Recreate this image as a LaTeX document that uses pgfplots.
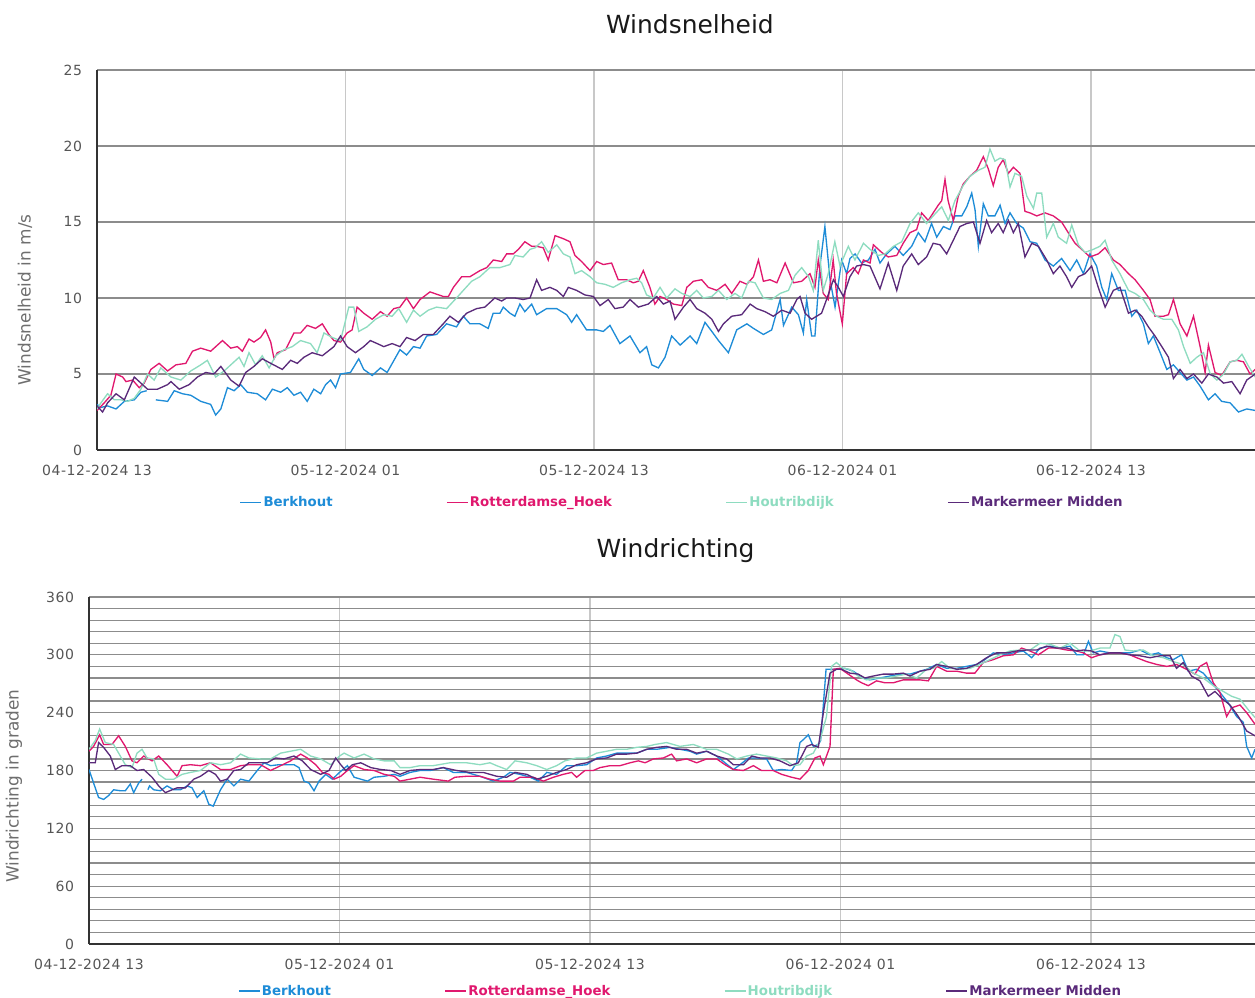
\documentclass[border=0pt]{standalone}
\usepackage{pgfplots}
\pgfplotsset{compat=1.18}
\usepackage{fontspec}
\setmainfont{DejaVu Sans}
\newfontfamily\tickfont{DejaVu Sans}[LetterSpace=4]
\definecolor{cBerk}{HTML}{1E8CD7}
\definecolor{cRott}{HTML}{E0186E}
\definecolor{cHout}{HTML}{8EDCC0}
\definecolor{cMark}{HTML}{5A2A7A}
\definecolor{tickgray}{HTML}{555555}
\definecolor{labgray}{HTML}{6E6E6E}
\definecolor{hgrid}{HTML}{8C8C8C}
\definecolor{vgrid}{HTML}{C8C8C8}
\pgfplotsset{
  common/.style={
    scale only axis, anchor=south west, xmin=0,
    axis x line*=bottom, axis y line*=left,
    axis line style={draw=black!80, line width=1.1pt},
    xtick={0,12,24,36,48},
    xticklabels={04-12-2024 13,05-12-2024 01,05-12-2024 13,06-12-2024 01,06-12-2024 13},
    /pgf/number format/assume math mode=true,
    xticklabel style={font=\tickfont\fontsize{10.5}{12}\selectfont, text=tickgray, yshift=-7.75pt},
    yticklabel style={font=\tickfont\fontsize{10.5}{12}\selectfont, text=tickgray, xshift=-7.75pt},
    xtick style={draw=none}, ytick style={draw=none}, minor tick style={draw=none},
    xmajorgrids, ymajorgrids,
    x grid style={vgrid, line width=1pt},
    y grid style={hgrid, line width=0.9pt},
    unbounded coords=jump,
    every axis plot/.append style={line width=1pt},
    title style={font=\fontsize{18.7}{22}\selectfont, text=black!90, anchor=center},
    ylabel style={font=\fontsize{12.7}{14}\selectfont, text=labgray, anchor=center},
    legend columns=4,
    legend image code/.code={\draw[#1, line width=1.2pt] (0pt,0pt) -- (15.75pt,0pt);},
    legend style={draw=none, fill=none, anchor=center,
      font=\bfseries\fontsize{10}{12}\selectfont,
      nodes={inner xsep=1pt},
      /tikz/every even column/.append style={column sep=84pt}},
  }
}
\begin{document}
\begin{tikzpicture}
\useasboundingbox (0,0) rectangle (941.25pt,748.5pt);
% ---------------- Windsnelheid ----------------
\begin{axis}[common,
  at={(72.75pt,411pt)}, width=868.5pt, height=285pt,
  xmax=55.92, ymin=0, ymax=25, ytick={0,5,...,25},
  title={Windsnelheid}, title style={at={(0.512,1)}, yshift=28.5pt},
  ylabel={Windsnelheid in m/s}, ylabel style={at={(axis description cs:-0.0622,0.395)}},
  legend style={at={(0.505,-0.138)}},
]
\addplot[cBerk] coordinates {(0,3.0)(0.19,2.8)(0.51,2.9)(0.92,2.7)(1.32,3.2)(1.80,3.3)(2.12,3.8)(2.40,3.9)(2.60,nan)(2.84,3.3)(3.41,3.2)(3.73,3.9)(4.13,3.7)(4.53,3.6)(5.01,3.2)(5.49,3.0)(5.73,2.3)(5.98,2.7)(6.30,4.1)(6.62,3.9)(6.94,4.3)(7.26,3.8)(7.74,3.7)(8.14,3.3)(8.47,4.0)(8.87,3.8)(9.19,4.1)(9.51,3.6)(9.83,3.8)(10.15,3.2)(10.47,4.0)(10.80,3.7)(11.04,4.3)(11.28,4.6)(11.52,4.1)(11.76,5.0)(12.24,5.1)(12.64,6.0)(12.88,5.3)(13.29,4.9)(13.69,5.4)(14.01,5.1)
(14.63,6.6)(14.95,6.25)(15.28,6.8)(15.60,6.7)(15.92,7.5)(16.40,7.6)(16.88,8.3)(17.36,8.1)(17.69,8.8)(18.01,8.3)(18.49,8.3)(18.89,8.0)(19.13,9.0)(19.46,9.0)(19.62,9.4)(19.94,9.0)(20.18,8.8)(20.42,9.6)(20.66,9.1)(20.99,9.6)(21.23,8.9)(21.71,9.3)(22.20,9.3)(22.68,8.9)(22.92,8.4)(23.16,8.9)(23.64,7.9)(24.13,7.9)(24.45,7.8)(24.77,8.2)(25.25,7.0)(25.74,7.5)(26.22,6.4)(26.54,6.8)(26.79,5.6)(27.11,5.4)(27.43,6.1)(27.75,7.5)(28.16,6.9)(28.64,7.5)(28.96,7.0)(29.36,8.4)(29.69,7.8)(30.01,7.2)(30.49,6.4)(30.89,7.9)(31.38,8.3)(31.70,8.0)(32.18,7.6)(32.58,7.9)(32.99,9.9)(33.15,8.2)(33.55,9.4)(33.87,8.9)
(34.11,7.7)(34.27,9.9)(34.51,7.5)(34.67,7.5)(34.91,12.1)(35.15,14.7)(35.40,11.2)(35.64,9.4)(35.96,12.5)(36.20,11.6)(36.36,12.6)(36.61,12.9)(36.92,12.3)(37.25,12.5)(37.57,13.2)(37.81,12.3)(38.13,12.9)(38.53,13.4)(38.93,12.8)(39.34,13.4)(39.66,14.3)(39.98,13.7)(40.30,14.9)(40.55,14.0)(40.87,14.7)(41.19,14.5)(41.43,15.4)(41.76,15.4)(42.00,16.0)(42.24,16.9)(42.40,15.8)(42.56,13.4)(42.80,16.2)(43.04,15.4)(43.36,15.4)(43.61,16.1)(43.85,14.9)(44.09,15.6)(44.41,14.9)(44.73,14.6)(45.06,13.7)(45.38,13.6)(45.78,12.5)(46.18,12.1)(46.58,12.6)(46.99,11.8)(47.31,12.5)(47.63,11.6)(47.95,12.9)(48.27,12.1)(48.52,10.7)(48.76,9.9)(49.00,11.6)(49.32,10.5)(49.65,10.5)(49.97,8.8)(50.21,9.2)(50.53,8.3)(50.77,7.0)(51.01,7.5)(51.34,6.4)(51.66,5.3)(51.98,5.6)(52.30,5.1)(52.63,4.6)(52.95,4.8)(53.27,4.2)(53.67,3.3)(53.99,3.7)(54.31,3.2)(54.72,3.1)(55.12,2.5)(55.52,2.7)(55.93,2.6)};
\addlegendentry{\textcolor{cBerk}{Berkhout}}
\addplot[cRott] coordinates {(0,2.6)(0.35,3.1)(0.67,3.6)(0.92,5.0)(1.24,4.8)(1.40,4.5)(1.72,4.6)(2.04,4.1)(2.28,4.4)(2.60,5.3)(3.00,5.7)(3.41,5.2)(3.81,5.6)(4.29,5.7)(4.61,6.5)(5.01,6.7)(5.49,6.5)(6.06,7.2)(6.46,6.7)(6.78,6.8)(7.02,6.5)(7.34,7.3)(7.58,7.1)(7.90,7.4)(8.14,7.9)(8.39,7.1)(8.55,6.0)(8.71,6.4)(9.11,6.6)(9.51,7.7)(9.83,7.7)(10.15,8.2)(10.55,8.0)(10.88,8.3)(11.20,7.6)(11.44,7.2)(11.76,7.1)(12.08,7.7)(12.32,7.9)(12.56,9.4)(12.88,9.0)(13.29,8.6)(13.69,9.1)(14.01,8.8)(14.33,9.3)
(14.63,9.4)(14.95,10.0)(15.28,9.3)(15.60,9.9)(16.08,10.4)(16.72,10.1)(16.97,10.1)(17.21,10.7)(17.61,11.4)(18.01,11.4)(18.49,11.8)(18.82,12.0)(19.14,12.5)(19.54,12.4)(19.78,12.9)(20.10,12.9)(20.35,13.2)(20.66,13.7)(20.99,13.4)(21.23,13.4)(21.55,13.3)(21.79,12.5)(22.12,14.1)(22.52,13.9)(22.84,13.7)(23.08,12.8)(23.40,12.4)(23.81,11.8)(24.13,12.4)(24.45,12.2)(24.85,12.3)(25.17,11.2)(25.57,11.2)(25.90,11.0)(26.14,11.1)(26.38,11.8)(26.70,10.7)(26.94,9.6)(27.19,10.1)(27.51,9.9)(27.83,9.6)(28.24,9.5)(28.48,10.7)(28.80,11.1)(29.20,11.2)(29.52,10.7)(29.93,10.5)(30.33,10.9)(30.65,10.3)(31.05,11.1)(31.38,10.9)(31.70,11.4)(31.94,12.5)(32.18,11.1)(32.50,11.2)(32.83,11.0)(33.23,12.3)(33.63,11.0)
(34.03,11.1)(34.43,11.6)(34.67,10.7)(34.83,12.5)(35.07,10.3)(35.31,9.9)(35.55,12.5)(35.71,10.3)(35.99,8.3)(36.20,11.6)(36.52,12.0)(36.76,11.6)(37.01,12.5)(37.33,12.3)(37.49,13.5)(37.89,13.0)(38.21,12.7)(38.62,12.8)(38.93,13.6)(39.26,14.3)(39.58,14.5)(39.82,15.6)(40.14,15.1)(40.38,15.6)(40.62,16.1)(40.79,16.4)(40.95,17.8)(41.10,16.4)(41.35,15.1)(41.59,16.7)(41.83,17.5)(42.15,18.0)(42.48,18.4)(42.80,19.3)(43.04,18.5)(43.28,17.4)(43.52,18.6)(43.76,19.1)(44.01,18.2)(44.25,18.6)(44.57,18.2)(44.81,15.7)(45.05,15.6)(45.38,15.4)(45.78,15.6)(46.18,15.4)(46.58,15.0)(46.90,14.3)(47.23,13.6)(47.55,13.2)(47.95,12.7)(48.35,12.9)(48.68,13.3)(49.08,12.5)(49.40,12.2)(49.81,11.6)(50.13,11.2)(50.53,10.5)(50.85,9.9)(51.09,8.8)(51.50,8.8)(51.74,8.9)(51.98,9.9)(52.30,8.3)(52.63,7.5)(52.95,8.8)(53.27,6.8)(53.51,5.1)(53.67,6.9)(53.99,5.1)(54.31,4.9)(54.72,5.8)(55.04,5.9)(55.36,5.8)(55.68,5.0)(55.93,5.3)};
\addlegendentry{\textcolor{cRott}{Rotterdamse\_Hoek}}
\addplot[cHout] coordinates {(0,2.7)(0.19,3.1)(0.51,3.7)(0.84,3.3)(1.16,3.3)(1.48,3.2)(1.80,3.4)(2.12,4.0)(2.44,5.0)(2.76,4.6)(3.08,5.4)(3.57,4.8)(4.05,4.6)(4.53,5.2)(5.01,5.6)(5.33,5.9)(5.73,4.8)(6.14,5.2)(6.46,5.6)(6.86,6.1)(7.10,5.5)(7.34,6.4)(7.66,5.6)(7.98,6.2)(8.31,5.4)(8.63,6.2)(9.03,6.6)(9.43,6.8)(9.83,7.2)(10.31,7.0)(10.63,6.4)(10.96,7.7)(11.36,7.4)(11.76,7.2)(12.16,9.4)(12.40,9.4)(12.64,7.8)(13.04,8.1)(13.45,8.6)(13.85,8.9)(14.25,8.8)(14.57,9.3)
(14.95,8.4)(15.28,9.2)(15.60,8.8)(16.00,9.2)(16.40,9.4)(16.88,9.3)(17.36,10.0)(17.69,10.5)(18.09,11.1)(18.49,11.4)(18.97,12.0)(19.46,12.0)(19.94,12.2)(20.18,12.8)(20.58,12.7)(20.91,13.2)(21.15,13.3)(21.47,13.7)(21.79,13.0)(22.20,13.5)(22.52,12.9)(22.84,12.7)(23.08,11.6)(23.40,11.8)(23.81,11.4)(24.13,11.0)(24.53,10.9)(24.93,10.7)(25.33,11.0)(25.74,11.2)(26.06,11.3)(26.30,11.0)(26.54,10.2)(26.86,10.0)(27.19,10.7)(27.51,10.0)(27.91,10.6)(28.24,10.3)(28.64,10.1)(28.96,10.5)(29.28,10.0)(29.69,10.1)(30.01,10.5)(30.41,9.9)(30.81,10.3)(31.13,10.0)(31.46,11.1)(31.78,11.0)(32.18,10.0)(32.58,9.9)(32.99,10.3)(33.39,10.5)(33.71,11.5)
(34.03,12.0)(34.36,11.4)(34.59,10.5)(34.83,13.8)(35.07,10.5)(35.31,11.6)(35.63,13.7)(35.88,12.1)(36.28,13.4)(36.60,12.5)(37.01,13.6)(37.33,13.2)(37.73,12.8)(38.05,12.9)(38.46,13.4)(38.86,13.7)(39.26,14.9)(39.66,15.6)(40.06,14.9)(40.38,15.4)(40.79,16.0)(41.11,15.1)(41.43,16.4)(41.83,17.4)(42.15,18.0)(42.56,18.4)(42.88,18.6)(43.12,19.8)(43.36,19.0)(43.61,19.2)(43.85,19.1)(44.09,17.3)(44.33,18.2)(44.65,18.0)(44.90,16.7)(45.22,15.9)(45.38,16.9)(45.62,16.9)(45.86,14.0)(46.18,14.9)(46.42,14.0)(46.82,13.6)(47.07,14.8)(47.39,13.5)(47.71,13.0)(48.11,13.2)(48.43,13.4)(48.68,13.8)(49.00,12.5)(49.40,11.6)(49.81,10.5)(50.13,10.3)(50.53,9.9)(50.85,9.2)(51.17,8.8)(51.50,8.6)(51.90,8.6)(52.22,7.9)(52.47,6.8)(52.79,5.7)(53.11,6.1)(53.43,6.4)(53.76,5.0)(54.08,4.6)(54.40,5.0)(54.72,5.8)(55.04,5.9)(55.29,6.3)(55.61,5.5)(55.93,4.8)};
\addlegendentry{\textcolor{cHout}{Houtribdijk}}
\addplot[cMark] coordinates {(0,2.9)(0.27,2.5)(0.51,3.1)(0.92,3.7)(1.32,3.3)(1.80,4.8)(2.20,4.3)(2.44,4.0)(2.92,4.0)(3.41,4.3)(3.57,4.5)(3.97,4.0)(4.45,4.3)(4.85,4.8)(5.25,5.1)(5.65,5.0)(5.98,5.5)(6.46,4.6)(6.86,4.2)(7.18,5.1)(7.58,5.5)(7.98,6.0)(8.39,5.7)(8.95,5.3)(9.35,5.9)(9.67,5.7)(9.99,6.1)(10.39,6.4)(10.88,6.2)(11.44,6.8)(11.76,7.5)(12.08,6.8)(12.48,6.4)(12.88,6.8)(13.20,7.2)(13.53,7.0)(13.85,6.8)(14.25,7.0)
(14.63,6.8)(14.95,7.4)(15.36,7.2)(15.76,7.6)(16.24,7.6)(16.72,8.3)(17.04,8.8)(17.45,8.4)(17.85,9.0)(18.33,9.3)(18.73,9.4)(19.21,10.0)(19.54,9.8)(19.78,10.0)(20.18,10.0)(20.58,9.9)(20.91,10.0)(21.23,11.2)(21.47,10.5)(21.87,10.7)(22.20,10.5)(22.52,10.1)(22.76,10.7)(23.16,10.5)(23.56,10.2)(23.97,10.1)(24.29,9.5)(24.69,9.9)(25.01,9.3)(25.41,9.4)(25.74,9.9)(26.14,9.4)(26.62,9.6)(27.03,10.1)(27.35,9.6)(27.67,9.8)(27.91,8.6)(28.32,9.4)(28.64,9.9)(28.96,9.3)(29.36,9.0)(29.69,8.6)(30.01,7.8)(30.25,8.3)(30.65,8.8)(31.13,8.9)(31.54,9.6)(31.86,9.3)(32.26,9.1)(32.66,8.8)(33.07,9.2)(33.47,9.0)(33.79,9.9)
(33.95,10.1)(34.19,9.0)(34.51,8.6)(34.75,8.8)(34.99,9.0)(35.23,9.9)(35.56,11.2)(35.80,10.7)(36.04,10.1)(36.36,11.4)(36.68,12.1)(37.01,12.2)(37.33,12.1)(37.81,10.6)(38.21,12.3)(38.62,10.5)(38.93,12.1)(39.34,12.9)(39.66,12.2)(40.06,12.7)(40.38,13.6)(40.71,13.5)(41.03,12.9)(41.35,13.8)(41.67,14.7)(42.00,14.9)(42.32,15.0)(42.64,13.6)(42.96,15.1)(43.20,14.3)(43.52,14.9)(43.76,14.3)(44.01,15.1)(44.25,14.3)(44.49,14.9)(44.81,12.7)(45.14,13.6)(45.46,13.4)(45.86,12.5)(46.18,11.6)(46.50,12.1)(46.82,11.4)(47.07,10.7)(47.39,11.4)(47.71,11.6)(48.03,12.1)(48.35,10.7)(48.68,9.4)(49.08,10.5)(49.40,10.7)(49.81,9.0)(50.13,9.2)(50.45,8.8)(50.77,8.1)(51.09,7.5)(51.42,6.8)(51.74,6.1)(51.98,4.7)(52.30,5.3)(52.63,4.7)(52.95,5.0)(53.35,4.4)(53.67,5.0)(54.08,4.8)(54.40,4.4)(54.80,4.5)(55.20,3.7)(55.52,4.6)(55.93,5.0)};
\addlegendentry{\textcolor{cMark}{Markermeer Midden}}
\end{axis}
% ---------------- Windrichting ----------------
\begin{axis}[common,
  at={(66.75pt,40.5pt)}, width=874.5pt, height=260.25pt,
  xmax=55.86, ymin=0, ymax=360, ytick={0,60,...,360},
  minor y tick num=4, yminorgrids,
  minor y grid style={hgrid, line width=0.9pt},
  title={Windrichting}, title style={at={(0.503,1)}, yshift=28.5pt},
  ylabel={Windrichting in graden}, ylabel style={at={(axis description cs:-0.0643,0.455)}},
  legend style={at={(0.507,-0.1355)}},
]
\addplot[cBerk] coordinates {(0,181)(0.22,167)(0.46,152)(0.70,150)(0.94,154)(1.18,160)(1.50,159)(1.74,159)(1.98,166)(2.14,157)(2.38,167)(2.54,171)(2.68,nan)(2.82,160)(2.90,164)(3.10,160)(3.42,159)(3.74,164)(4.06,160)(4.38,160)(4.70,164)(4.94,162)(5.18,152)(5.50,159)(5.74,145)(5.95,143)(6.30,160)(6.62,171)(6.94,164)(7.26,171)(7.66,169)(8.06,180)(8.38,188)(8.70,185)(9.10,186)(9.50,186)(9.82,186)(10.06,183)(10.30,169)(10.54,167)(10.78,159)(11.02,169)(11.34,176)(11.66,171)(12.00,178)(12.38,185)(12.70,173)(13.02,171)(13.34,169)(13.66,173)(14.14,174)(14.62,176)
(14.90,174)(15.38,178)(15.86,180)(16.34,180)(16.97,183)(17.45,178)(18.09,178)(18.73,174)(19.37,169)(19.85,173)(20.17,178)(20.65,176)(21.13,173)(21.53,169)(21.93,178)(22.40,176)(22.88,185)(23.36,185)(23.84,186)(24.32,193)(24.80,195)(25.28,198)(25.76,198)(26.24,198)(26.72,202)(27.20,202)(27.83,204)(28.31,202)(28.79,200)(29.11,197)(29.59,200)(30.07,195)(30.47,188)(30.87,181)(31.19,186)(31.59,193)(31.98,193)(32.46,192)(32.78,180)(33.18,181)(33.66,180)(33.90,188)
(34.06,209)(34.22,212)(34.46,217)(34.70,205)(34.94,207)(35.05,211)(35.31,285)(35.97,285)(36.21,286)(36.61,283)(37.09,276)(37.41,274)(37.89,276)(38.37,278)(38.85,280)(39.33,280)(39.81,283)(40.13,285)(40.61,290)(41.09,286)(41.57,286)(42.04,288)(42.52,290)(42.92,295)(43.32,302)(43.80,300)(44.28,302)(44.76,304)(45.16,297)(45.56,307)(46.04,309)(46.52,307)(47.00,309)(47.32,300)(47.64,300)(47.88,314)(48.11,302)(48.43,304)(48.91,302)(49.39,302)(49.87,302)(50.35,305)(50.83,300)(51.23,302)(51.63,297)(51.94,295)(52.34,300)(52.66,283)(53.06,285)(53.38,281)(53.78,271)(54.18,261)(54.58,250)(54.98,236)(55.30,230)(55.46,205)(55.70,193)(55.86,202)};
\addlegendentry{\textcolor{cBerk}{Berkhout}}
\addplot[cRott] coordinates {(0,200)(0.22,205)(0.51,217)(0.70,207)(1.10,207)(1.42,216)(1.74,205)(2.06,190)(2.30,188)(2.62,195)(3.02,190)(3.34,195)(3.74,186)(4.22,174)(4.46,185)(4.86,186)(5.34,185)(5.82,188)(6.30,181)(6.78,181)(7.26,185)(7.66,186)(8.22,186)(8.70,180)(9.18,185)(9.66,190)(10.14,197)(10.46,193)(10.86,186)(11.18,178)(11.50,176)(11.74,171)(12.06,174)(12.38,180)(12.70,185)(13.18,181)(13.66,180)(14.14,176)(14.62,174)
(14.90,169)(15.38,171)(15.86,173)(16.49,171)(17.21,169)(17.53,173)(18.09,174)(18.73,174)(19.21,171)(19.69,169)(20.33,169)(20.65,173)(21.29,173)(21.77,169)(22.25,173)(22.72,176)(23.12,178)(23.36,173)(23.76,180)(24.16,180)(24.48,183)(24.96,185)(25.44,185)(25.92,188)(26.32,190)(26.64,188)(27.04,192)(27.52,193)(27.91,197)(28.15,190)(28.63,192)(29.11,188)(29.59,192)(30.07,192)(30.47,186)(30.87,181)(31.35,180)(31.83,185)(32.22,180)(32.78,180)(33.18,176)(33.66,173)
(34.06,171)(34.46,180)(34.78,193)(35.02,195)(35.18,186)(35.50,205)(35.66,285)(35.97,286)(36.37,280)(36.77,274)(37.01,271)(37.33,268)(37.73,273)(38.13,271)(38.53,271)(39.01,274)(39.49,274)(39.81,274)(40.21,273)(40.61,288)(41.09,283)(41.57,283)(42.04,281)(42.44,281)(42.84,292)(43.32,295)(43.80,299)(44.28,300)(44.68,307)(45.08,304)(45.48,300)(45.96,307)(46.36,307)(46.84,305)(47.32,304)(47.64,302)(48.03,297)(48.43,300)(48.91,302)(49.39,302)(49.87,300)(50.19,297)(50.67,293)(51.15,290)(51.63,288)(52.10,290)(52.58,285)(52.98,280)(53.22,288)(53.54,292)(53.86,271)(54.18,261)(54.50,236)(54.74,245)(55.14,248)(55.46,240)(55.86,228)};
\addlegendentry{\textcolor{cRott}{Rotterdamse\_Hoek}}
\addplot[cHout] coordinates {(0,202)(0.30,211)(0.51,223)(0.78,209)(1.18,207)(1.50,195)(1.74,186)(2.06,183)(2.30,198)(2.54,202)(2.78,193)(3.10,192)(3.34,176)(3.66,171)(4.06,171)(4.46,176)(4.86,178)(5.34,180)(5.82,188)(6.30,186)(6.78,188)(7.26,197)(7.66,193)(8.22,192)(8.70,192)(9.18,198)(9.66,200)(10.14,202)(10.62,195)(11.10,192)(11.58,186)(12.00,195)(12.22,198)(12.70,193)(13.18,197)(13.66,192)(14.14,190)(14.62,190)
(14.90,183)(15.38,183)(15.86,185)(16.49,185)(17.29,188)(18.09,188)(18.73,186)(19.21,188)(19.53,185)(20.01,181)(20.41,190)(20.97,188)(21.45,185)(21.93,181)(22.40,185)(22.80,190)(23.36,193)(23.84,193)(24.32,198)(24.80,200)(25.28,202)(25.76,202)(26.24,204)(26.72,205)(27.12,207)(27.67,209)(28.31,205)(28.95,207)(29.59,202)(30.07,202)(30.63,197)(31.03,192)(31.51,195)(31.98,197)(32.46,195)(32.94,193)(33.42,190)(33.74,185)
(34.06,186)(34.38,195)(34.70,198)(35.02,211)(35.33,236)(35.57,288)(35.81,292)(36.13,286)(36.45,285)(36.85,278)(37.25,274)(37.73,276)(38.21,276)(38.69,278)(39.17,280)(39.65,276)(40.13,285)(40.45,286)(40.85,293)(41.25,286)(41.73,285)(42.20,286)(42.68,290)(43.16,295)(43.64,300)(44.12,304)(44.60,305)(45.08,305)(45.56,312)(46.04,311)(46.52,307)(47.00,312)(47.48,304)(47.96,304)(48.43,307)(48.91,307)(49.15,321)(49.39,319)(49.63,305)(50.03,304)(50.51,305)(50.99,299)(51.47,297)(51.94,293)(52.42,290)(52.90,281)(53.38,276)(53.86,268)(54.34,262)(54.74,257)(55.14,254)(55.54,243)(55.86,235)};
\addlegendentry{\textcolor{cHout}{Houtribdijk}}
\addplot[cMark] coordinates {(0,188)(0.30,188)(0.46,209)(0.70,204)(1.02,195)(1.26,181)(1.58,185)(1.98,185)(2.30,180)(2.62,181)(3.02,173)(3.34,164)(3.66,157)(3.98,160)(4.22,162)(4.62,162)(5.02,171)(5.34,174)(5.74,180)(6.06,176)(6.30,169)(6.62,171)(6.94,180)(7.26,181)(7.66,188)(8.14,188)(8.54,188)(8.94,193)(9.34,192)(9.82,195)(10.22,190)(10.62,181)(11.10,176)(11.50,180)(11.82,193)(12.06,186)(12.30,180)(12.62,186)(13.02,188)(13.50,183)(13.98,181)(14.46,180)
(14.90,176)(15.38,180)(15.86,181)(16.49,181)(16.97,183)(17.61,180)(18.25,178)(18.89,178)(19.53,174)(20.01,173)(20.41,178)(20.97,176)(21.45,171)(21.93,174)(22.40,178)(22.88,181)(23.36,186)(23.84,188)(24.32,192)(24.80,193)(25.28,197)(25.76,197)(26.24,198)(26.72,202)(27.20,204)(27.67,205)(28.15,202)(28.63,202)(29.11,198)(29.59,200)(30.07,195)(30.55,192)(30.87,186)(31.35,186)(31.75,195)(32.14,193)(32.62,193)(33.10,190)(33.58,185)(33.98,188)
(34.38,205)(34.62,207)(34.94,204)(35.18,240)(35.50,281)(35.81,285)(36.05,285)(36.45,281)(36.85,280)(37.17,276)(37.57,278)(38.05,280)(38.53,280)(39.01,281)(39.33,278)(39.81,283)(40.29,285)(40.61,290)(41.09,288)(41.57,285)(42.04,286)(42.52,290)(43.00,297)(43.48,302)(43.96,302)(44.44,304)(44.92,305)(45.40,305)(45.88,309)(46.36,307)(46.84,307)(47.32,304)(47.64,305)(48.03,304)(48.43,300)(48.91,302)(49.39,302)(49.87,300)(50.35,299)(50.83,297)(51.31,299)(51.79,299)(52.10,286)(52.42,292)(52.82,278)(53.22,273)(53.62,257)(53.94,262)(54.26,255)(54.66,248)(55.06,236)(55.46,221)(55.86,216)};
\addlegendentry{\textcolor{cMark}{Markermeer Midden}}
\end{axis}
\end{tikzpicture}
\end{document}
